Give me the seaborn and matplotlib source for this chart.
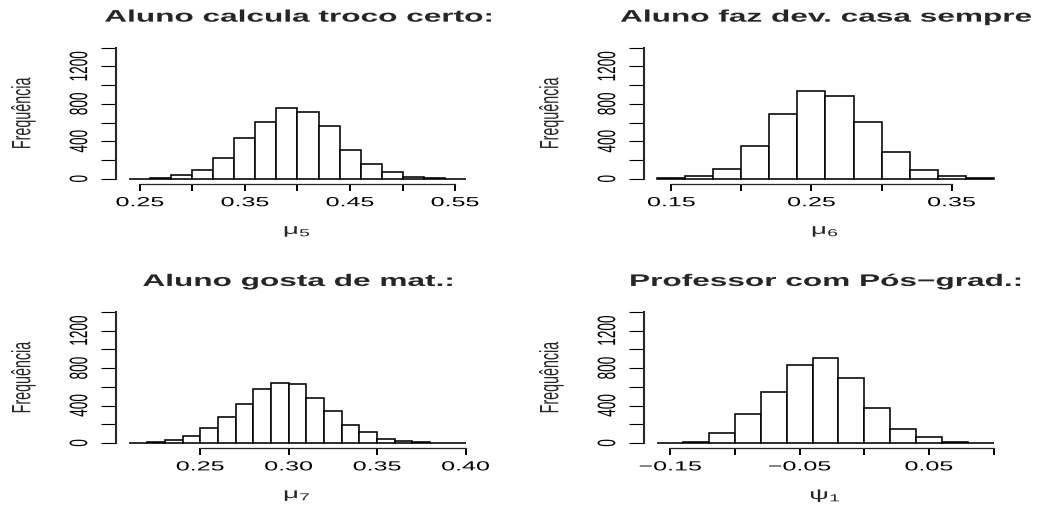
import numpy as np
import pandas as pd
import seaborn as sns
import matplotlib
matplotlib.use("Agg")
import matplotlib.pyplot as plt
from matplotlib.patheffects import AbstractPathEffect
from matplotlib.transforms import Affine2D
from matplotlib.ticker import FixedLocator

# ---- histogram data: bin edges and counts per bin ----
mu5_breaks = [0.24, 0.26, 0.28, 0.30, 0.32, 0.34, 0.36, 0.38, 0.40,
              0.42, 0.44, 0.46, 0.48, 0.50, 0.52, 0.54, 0.56]
mu5_counts = [2, 10, 35, 90, 217, 440, 604, 753, 714, 568, 302, 163, 71, 21, 7, 1]

mu6_breaks = [0.14, 0.16, 0.18, 0.20, 0.22, 0.24, 0.26, 0.28, 0.30,
              0.32, 0.34, 0.36, 0.38]
mu6_counts = [5, 25, 107, 345, 693, 941, 881, 604, 284, 89, 25, 5]

mu7_breaks = [0.21, 0.22, 0.23, 0.24, 0.25, 0.26, 0.27, 0.28, 0.29, 0.30,
              0.31, 0.32, 0.33, 0.34, 0.35, 0.36, 0.37, 0.38, 0.39, 0.40]
mu7_counts = [3, 15, 28, 71, 160, 278, 417, 574, 642, 627, 485, 339,
              196, 114, 39, 21, 7, 3, 2]

psi1_breaks = [-0.16, -0.14, -0.12, -0.10, -0.08, -0.06, -0.04, -0.02,
               0.00, 0.02, 0.04, 0.06, 0.08, 0.10]
psi1_counts = [3, 14, 110, 314, 542, 838, 906, 692, 371, 146, 61, 11, 4]

titles = ["Aluno calcula troco certo:", "Aluno faz dev. casa sempre",
          "Aluno gosta de mat.:", "Professor com Pós\u2212grad.:"]
xlabels = [r"$\mu_5$", r"$\mu_6$", r"$\mu_7$", r"$\psi_1$"]

mu5_ticks = [0.25, 0.30, 0.35, 0.40, 0.45, 0.50, 0.55]
mu5_ticklabels = ["0.25", "", "0.35", "", "0.45", "", "0.55"]
mu6_ticks = [0.15, 0.20, 0.25, 0.30, 0.35]
mu6_ticklabels = ["0.15", "", "0.25", "", "0.35"]
mu7_ticks = [0.25, 0.30, 0.35, 0.40]
mu7_ticklabels = ["0.25", "0.30", "0.35", "0.40"]
psi1_ticks = [-0.15, -0.10, -0.05, 0.00, 0.05, 0.10]
psi1_ticklabels = ["\u22120.15", "", "\u22120.05", "", "0.05", ""]

freq_ticks = [0, 200, 400, 600, 800, 1000, 1200, 1400]
freq_ticklabels = ["0", "", "400", "", "800", "", "1200", ""]
y_label = "Frequência"


class Stretch(AbstractPathEffect):
    """Draw text glyphs scaled about their own centre (wide lettering)."""

    def __init__(self, sx=1.0, sy=1.0):
        super().__init__()
        self.sx, self.sy = sx, sy

    def draw_path(self, renderer, gc, tpath, affine, rgbFace=None):
        ext = tpath.get_extents()
        cx = ext.x0 + ext.width / 2
        cy = ext.y0 + ext.height / 2
        local = (Affine2D().translate(-cx, -cy)
                 .scale(self.sx, self.sy).translate(cx, cy))
        renderer.draw_path(gc, tpath, local + affine, rgbFace)


sns.set_style("ticks")
plt.rcParams["font.family"] = ["Liberation Sans", "DejaVu Sans"]
plt.rcParams["mathtext.fontset"] = "dejavusans"
plt.rcParams["mathtext.default"] = "regular"

W, H = 1037, 508
fig = plt.figure(figsize=(W / 100, H / 100), dpi=100, facecolor="white")


def place(left, top, right, bottom):
    return fig.add_axes([left / W, 1 - bottom / H, (right - left) / W,
                         (bottom - top) / H])


WIDE = Stretch(sx=1.9)
WIDE_TITLE = Stretch(sx=1.88)
WIDE_ROT = Stretch(sy=1.85)

panels = [
    (mu5_breaks, mu5_counts, mu5_ticks, mu5_ticklabels, (116, 42.5, 479, 184)),
    (mu6_breaks, mu6_counts, mu6_ticks, mu6_ticklabels, (644, 42.5, 1007, 184)),
    (mu7_breaks, mu7_counts, mu7_ticks, mu7_ticklabels, (116, 306.8, 479, 448.2)),
    (psi1_breaks, psi1_counts, psi1_ticks, psi1_ticklabels, (644, 306.8, 1007, 448.2)),
]

for i, (breaks, counts, ticks, ticklabels, box) in enumerate(panels):
    ax = place(*box)
    ax.set_facecolor("white")
    edges = np.asarray(breaks, dtype=float)
    centers = (edges[:-1] + edges[1:]) / 2
    df = pd.DataFrame({"valor": centers, "n": np.asarray(counts, dtype=float)})
    sns.histplot(data=df, x="valor", weights="n", bins=list(breaks), ax=ax,
                 stat="count", color="white", edgecolor="black",
                 linewidth=1.15, alpha=1.0)

    span = edges[-1] - edges[0]
    ax.set_xlim(edges[0] - 0.04 * span, edges[-1] + 0.04 * span)
    ax.set_ylim(-56, 1456)

    for side in ("top", "right"):
        ax.spines[side].set_visible(False)
    ax.spines["left"].set_bounds(0, 1400)
    ax.spines["left"].set_linewidth(1.5)
    ax.spines["bottom"].set_bounds(ticks[0], ticks[-1])
    ax.spines["bottom"].set_linewidth(0.9)

    ax.xaxis.set_major_locator(FixedLocator(ticks))
    ax.set_xticklabels(ticklabels)
    ax.yaxis.set_major_locator(FixedLocator(freq_ticks))
    ax.set_yticklabels(freq_ticklabels)

    ax.tick_params(axis="x", length=5, width=1.4, pad=4.5, labelsize=9.5,
                   colors="black")
    ax.tick_params(axis="y", length=10.5, width=0.8, pad=11.0, labelsize=9.8,
                   labelrotation=90, colors="black")
    for lbl in ax.get_xticklabels():
        lbl.set_path_effects([WIDE])
    for lbl in ax.get_yticklabels():
        lbl.set_va("center")
        lbl.set_path_effects([WIDE_ROT])

    ax.set_title(titles[i], fontsize=12.1, fontweight="bold", pad=15,
                 path_effects=[WIDE_TITLE])
    ax.set_xlabel(xlabels[i], fontsize=10.5, path_effects=[WIDE])
    ax.xaxis.label.set_va("center")
    ax.xaxis.set_label_coords(0.5, -0.335)
    ax.set_ylabel(y_label, fontsize=10.3, path_effects=[WIDE_ROT])
    ax.yaxis.label.set_va("center")
    ax.yaxis.set_label_coords(-0.256, 0.5)

fig.savefig("out.png", dpi=100, facecolor="white")
